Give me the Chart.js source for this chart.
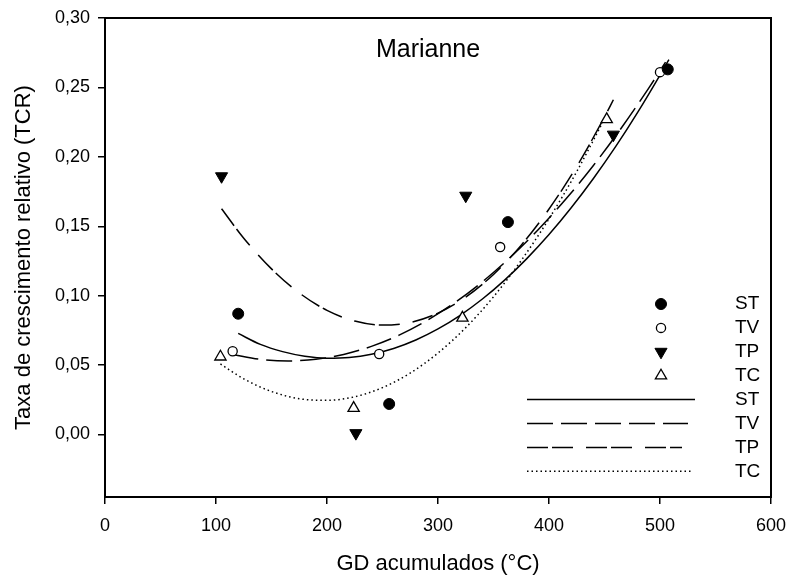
<!DOCTYPE html>
<html lang="pt">
<head>
<meta charset="utf-8">
<title>Marianne - TCR x GD acumulados</title>
<script src="https://cdn.jsdelivr.net/npm/chart.js@4.4.1/dist/chart.umd.min.js"></script>
<style>
  html, body { margin: 0; padding: 0; background: #fff; }
  #wrap { width: 790px; height: 577px; }
</style>
</head>
<body>
<div id="wrap"><canvas id="grafico" width="790" height="577"></canvas></div>
<script>
// Pontos observados (GD acumulados, TCR)
const xST = [120, 256, 363, 507];
const yST = [0.087, 0.022, 0.153, 0.263];
const xTV = [115, 247, 356, 500];
const yTV = [0.060, 0.058, 0.135, 0.261];
const xTP = [105, 226, 325, 458];
const yTP = [0.186, 0.001, 0.172, 0.216];
const xTC = [104, 224, 322, 452];
const yTC = [0.056, 0.019, 0.084, 0.227];

// Curvas ajustadas
const xCurvaST = [120, 140, 160, 180, 200, 220, 240, 260, 280, 300, 320, 340, 360, 380, 400, 420, 440, 460, 480, 500, 508];
const yCurvaST = [0.0728, 0.0649, 0.0597, 0.0564, 0.0550, 0.0555, 0.0578, 0.0620, 0.0681, 0.0761, 0.0859, 0.0976, 0.1112, 0.1267, 0.1440, 0.1633, 0.1844, 0.2073, 0.2322, 0.2589, 0.2701];
const xCurvaTV = [115, 140, 165, 190, 215, 240, 265, 290, 315, 340, 365, 390, 415, 440, 465, 490, 505];
const yCurvaTV = [0.0577, 0.0542, 0.0530, 0.0542, 0.0577, 0.0635, 0.0716, 0.0821, 0.0949, 0.1100, 0.1275, 0.1473, 0.1694, 0.1938, 0.2206, 0.2497, 0.2682];
const xCurvaTP = [105, 125, 150, 175, 200, 225, 250, 275, 300, 325, 350, 375, 400, 425, 450, 458];
const yCurvaTP = [0.1626, 0.1414, 0.1193, 0.1020, 0.0894, 0.0817, 0.0788, 0.0807, 0.0874, 0.0990, 0.1153, 0.1364, 0.1624, 0.1931, 0.2287, 0.2411];
const xCurvaTC = [104, 125, 150, 175, 200, 225, 250, 275, 300, 325, 350, 375, 400, 425, 452];
const yCurvaTC = [0.0508, 0.0401, 0.0310, 0.0258, 0.0246, 0.0272, 0.0338, 0.0443, 0.0587, 0.0770, 0.0992, 0.1254, 0.1554, 0.1894, 0.2305];

const series = ['ST', 'TV', 'TP', 'TC'];
const xTicks = [0, 100, 200, 300, 400, 500, 600];
const yTicks = [0, 0.05, 0.10, 0.15, 0.20, 0.25, 0.30];
const titulo = 'Marianne';

const fonte = '"Liberation Sans", Arial, sans-serif';

const marcadores = {
  ST: { pointStyle: 'circle', pointRadius: 5.5, pointRotation: 0, pointBackgroundColor: '#000', pointBorderColor: '#000', pointBorderWidth: 1 },
  TV: { pointStyle: 'circle', pointRadius: 4.6, pointRotation: 0, pointBackgroundColor: '#fff', pointBorderColor: '#000', pointBorderWidth: 1.3 },
  TP: { pointStyle: 'triangle', pointRadius: 7, pointRotation: 180, pointBackgroundColor: '#000', pointBorderColor: '#000', pointBorderWidth: 1 },
  TC: { pointStyle: 'triangle', pointRadius: 6.5, pointRotation: 0, pointBackgroundColor: '#fff', pointBorderColor: '#000', pointBorderWidth: 1.3 }
};
const tracos = { ST: [], TV: [26, 8], TP: [21, 4, 21, 13], TC: [1.5, 3] };

function pares(xs, ys) { return xs.map((x, i) => ({ x, y: ys[i] })); }

const pontos = { ST: [xST, yST], TV: [xTV, yTV], TP: [xTP, yTP], TC: [xTC, yTC] };
const curvas = { ST: [xCurvaST, yCurvaST], TV: [xCurvaTV, yCurvaTV], TP: [xCurvaTP, yCurvaTP], TC: [xCurvaTC, yCurvaTC] };

const datasets = [];
series.forEach(s => {
  datasets.push(Object.assign({ label: s, data: pares(...pontos[s]), showLine: false, order: 0 }, marcadores[s]));
});
series.forEach(s => {
  datasets.push({
    label: s + ' ajuste', data: pares(...curvas[s]), showLine: true, pointRadius: 0,
    borderColor: '#000', borderWidth: 1.5, borderDash: tracos[s], fill: false,
    cubicInterpolationMode: 'monotone', order: 1
  });
});

function desenhaMarcador(ctx, m, x, y) {
  ctx.fillStyle = m.pointBackgroundColor;
  ctx.strokeStyle = m.pointBorderColor;
  ctx.lineWidth = m.pointBorderWidth;
  ctx.beginPath();
  if (m.pointStyle === 'circle') {
    ctx.arc(x, y, m.pointRadius, 0, Math.PI * 2);
  } else {
    let ang = m.pointRotation * Math.PI / 180;
    for (let k = 0; k < 3; k++) {
      ctx.lineTo(x + Math.sin(ang) * m.pointRadius, y - Math.cos(ang) * m.pointRadius);
      ang += 2 * Math.PI / 3;
    }
    ctx.closePath();
  }
  ctx.fill();
  ctx.stroke();
}

// moldura, titulo interno e legenda dentro da area do grafico
const legendaInterna = {
  id: 'legendaInterna',
  afterDraw(chart) {
    const { ctx, chartArea: a } = chart;
    const w = a.right - a.left;
    ctx.save();
    ctx.strokeStyle = '#000';
    ctx.lineWidth = 2;
    ctx.strokeRect(a.left, a.top, w, a.bottom - a.top);

    ctx.fillStyle = '#000';
    ctx.font = '25px ' + fonte;
    ctx.textAlign = 'center';
    ctx.textBaseline = 'alphabetic';
    ctx.fillText(titulo, a.left + 0.485 * w, a.top + 39);

    const y0 = a.bottom - 193;
    const passo = 23.9;
    const xMarc = a.left + 556;
    const xTexto = a.right - 36;
    ctx.font = '19px ' + fonte;
    ctx.textAlign = 'left';
    ctx.textBaseline = 'middle';
    series.forEach((s, i) => {
      const y = y0 + i * passo;
      desenhaMarcador(ctx, marcadores[s], xMarc, y);
      ctx.fillStyle = '#000';
      ctx.fillText(s, xTexto, y);
    });
    const fimLinha = { ST: 590, TV: 583, TP: 577, TC: 586 };
    series.forEach((s, i) => {
      const y = y0 + (i + 4) * passo;
      ctx.strokeStyle = '#000';
      ctx.lineWidth = 1.5;
      ctx.setLineDash(tracos[s]);
      ctx.beginPath();
      ctx.moveTo(a.left + 422, y);
      ctx.lineTo(a.left + fimLinha[s], y);
      ctx.stroke();
      ctx.setLineDash([]);
      ctx.fillStyle = '#000';
      ctx.fillText(s, xTexto, y);
    });
    ctx.restore();
  }
};

new Chart(document.getElementById('grafico'), {
  type: 'scatter',
  data: { datasets },
  plugins: [legendaInterna],
  options: {
    responsive: false,
    animation: false,
    devicePixelRatio: 1,
    layout: { padding: { top: 18, right: 19, bottom: 0, left: 0 } },
    plugins: { legend: { display: false }, tooltip: { enabled: false } },
    scales: {
      x: {
        type: 'linear', min: 0, max: 600,
        afterBuildTicks: s => { s.ticks = xTicks.map(v => ({ value: v })); },
        afterFit: s => { s.height = 80; s.paddingLeft = 0; s.paddingRight = 0; },
        grid: { drawOnChartArea: false, drawTicks: true, tickLength: 7, color: '#000', lineWidth: 1.5 },
        border: { display: true, color: '#000', width: 2 },
        ticks: { color: '#000', padding: 11, maxRotation: 0, font: { family: fonte, size: 18 } },
        title: { display: true, text: 'GD acumulados (°C)', color: '#000', padding: { top: 0, bottom: 0 }, font: { family: fonte, size: 22 } }
      },
      y: {
        type: 'linear', min: -0.045, max: 0.30,
        afterBuildTicks: s => { s.ticks = yTicks.map(v => ({ value: v })); },
        afterFit: s => { s.width = 105; s.paddingTop = 0; s.paddingBottom = 0; },
        grid: { drawOnChartArea: false, drawTicks: true, tickLength: 7, color: '#000', lineWidth: 1.5 },
        border: { display: true, color: '#000', width: 2 },
        ticks: {
          color: '#000', padding: 8, font: { family: fonte, size: 18 },
          callback: v => v.toFixed(2).replace('.', ',')
        },
        title: { display: true, text: 'Taxa de crescimento relativo (TCR)', color: '#000', padding: { top: 11, bottom: 0 }, font: { family: fonte, size: 22 } }
      }
    }
  }
});
</script>
</body>
</html>
